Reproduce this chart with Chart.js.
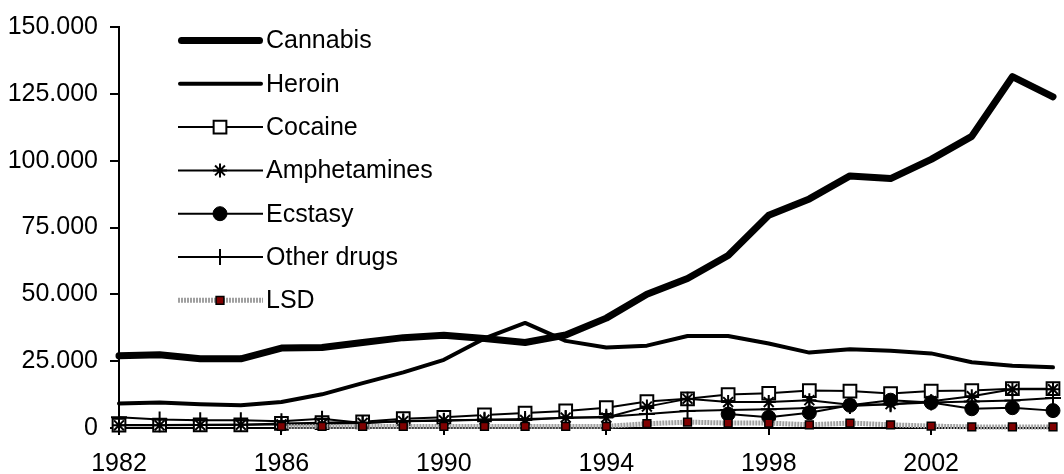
<!DOCTYPE html>
<html>
<head>
<meta charset="utf-8">
<script src="https://cdn.jsdelivr.net/npm/chart.js@4"></script>
<style>
html,body{margin:0;padding:0;background:#fff;}
#wrap{width:1064px;height:474px;position:relative;}
</style>
</head>
<body>
<div id="wrap"><canvas id="c" width="1064" height="474"></canvas></div>
<script>
const years = ['1982','1983','1984','1985','1986','1987','1988','1989','1990','1991','1992','1993',
               '1994','1995','1996','1997','1998','1999','2000','2001','2002','2003','2004','2005'];
const xLabelYears = ['1982','1986','1990','1994','1998','2002'];
const yTickLabels = ['0','25.000','50.000','75.000','100.000','125.000','150.000'];

const cannabis = [27000,27400,25900,25900,29900,30100,32000,33800,34700,33500,32000,34800,
                  41100,50000,55900,64500,79600,85700,94300,93300,100500,109100,131400,123900];
const heroin = [9200,9500,8900,8500,9700,12600,16800,20800,25500,33500,39300,32600,
                30100,30800,34400,34400,31600,28200,29500,28900,27900,24600,23300,22700];
const cocaine = [1100,1100,1200,1200,1700,2000,2300,3500,4000,4900,5600,6400,
                 7600,9900,10900,12500,13000,14000,13800,12900,13800,14000,14700,14700];
const amphetamines = [1000,1000,1100,1200,1300,1500,1900,2600,2900,3100,3000,3900,
                      3900,8000,10900,9700,9700,10400,8700,8900,10000,11900,14500,14500];
const ecstasy = [null,null,null,null,null,null,null,null,null,null,null,null,
                 null,null,null,5200,4000,5700,8500,10400,9500,7200,7600,6500];
const otherDrugs = [4000,3200,2900,2900,2500,3500,1900,2500,2700,3100,3400,3700,
                    4200,5200,6400,6700,7000,7500,8200,8900,9500,9900,10300,11200];
const lsd = [null,null,null,null,600,600,600,600,600,600,600,600,
             600,1600,2200,1850,1850,1200,1850,1200,700,400,400,400];

const FONT = "'Liberation Sans', Arial, Helvetica, sans-serif";
const FONT_SIZE = 25;

function drawMarker(ctx, ds, x, y) {
  const r = ds.pointRadius || 0;
  if (!r) return;
  ctx.save();
  ctx.setLineDash([]);
  ctx.lineWidth = ds.pointBorderWidth || 1;
  ctx.strokeStyle = ds.pointBorderColor || '#000';
  ctx.fillStyle = ds.pointBackgroundColor || '#000';
  if (window.Chart && Chart.helpers && Chart.helpers.drawPoint) {
    Chart.helpers.drawPoint(ctx, {pointStyle: ds.pointStyle, radius: r, rotation: 0, borderWidth: ds.pointBorderWidth || 1}, x, y);
  } else {
    ctx.beginPath();
    const s = ds.pointStyle;
    if (s === 'rect') {
      const h = r * Math.SQRT1_2;
      ctx.rect(x - h, y - h, 2 * h, 2 * h);
      ctx.fill(); ctx.stroke();
    } else if (s === 'circle') {
      ctx.arc(x, y, r, 0, Math.PI * 2);
      ctx.fill(); ctx.stroke();
    } else if (s === 'cross') {
      ctx.moveTo(x, y - r); ctx.lineTo(x, y + r);
      ctx.moveTo(x - r, y); ctx.lineTo(x + r, y);
      ctx.stroke();
    } else if (s === 'star') {
      ctx.moveTo(x, y - r); ctx.lineTo(x, y + r);
      ctx.moveTo(x - r, y); ctx.lineTo(x + r, y);
      const d = r * Math.SQRT1_2;
      ctx.moveTo(x - d, y - d); ctx.lineTo(x + d, y + d);
      ctx.moveTo(x - d, y + d); ctx.lineTo(x + d, y - d);
      ctx.stroke();
    }
  }
  ctx.restore();
}

const legendPlugin = {
  id: 'customLegend',
  afterDraw(chart) {
    const ctx = chart.ctx;
    chart.data.datasets.forEach((ds, i) => {
      const y = 40.5 + i * 43.3;
      ctx.save();
      ctx.strokeStyle = ds.borderColor;
      ctx.lineWidth = ds.borderWidth;
      ctx.setLineDash(ds.borderDash || []);
      ctx.lineCap = ds.borderCapStyle || 'butt';
      const inset = ds.borderCapStyle === 'round' ? ds.borderWidth / 2 : 0;
      ctx.beginPath();
      ctx.moveTo(178 + inset, y);
      ctx.lineTo(263 - inset, y);
      ctx.stroke();
      ctx.restore();
      drawMarker(ctx, ds, 220, y);
      ctx.save();
      ctx.fillStyle = '#000';
      ctx.font = FONT_SIZE + 'px ' + FONT;
      ctx.textBaseline = 'middle';
      ctx.textAlign = 'left';
      ctx.fillText(ds.label, 266, y + 1);
      ctx.restore();
    });
  }
};

function lineDs(label, data, extra, order) {
  return Object.assign({
    label: label,
    data: data,
    borderColor: '#000',
    backgroundColor: '#000',
    borderWidth: 2,
    tension: 0,
    fill: false,
    pointRadius: 0,
    pointHoverRadius: 0,
    borderJoinStyle: 'round',
    clip: false,
    order: order
  }, extra);
}

const datasets = [
  lineDs('Cannabis', cannabis, {borderWidth: 7, borderCapStyle: 'round'}, 6),
  lineDs('Heroin', heroin, {borderWidth: 4, borderCapStyle: 'round'}, 5),
  lineDs('Cocaine', cocaine, {pointStyle: 'rect', pointRadius: 9, pointBackgroundColor: '#fff', pointBorderColor: '#000', pointBorderWidth: 2}, 4),
  lineDs('Amphetamines', amphetamines, {pointStyle: 'star', pointRadius: 7, pointBackgroundColor: '#000', pointBorderColor: '#000', pointBorderWidth: 2}, 3),
  lineDs('Ecstasy', ecstasy, {pointStyle: 'circle', pointRadius: 7, pointBackgroundColor: '#000', pointBorderColor: '#000', pointBorderWidth: 1}, 2),
  lineDs('Other drugs', otherDrugs, {pointStyle: 'cross', pointRadius: 8, pointBackgroundColor: '#000', pointBorderColor: '#000', pointBorderWidth: 2}, 1),
  lineDs('LSD', lsd, {borderColor: '#a0a0a0', borderWidth: 5, borderDash: [2, 1], pointStyle: 'rect', pointRadius: 5.5, pointBackgroundColor: '#800000', pointBorderColor: '#000', pointBorderWidth: 1.5}, 0)
];

new Chart(document.getElementById('c'), {
  type: 'line',
  data: { labels: years, datasets: datasets },
  options: {
    responsive: false,
    animation: false,
    events: [],
    layout: { padding: { top: 23, right: 4, left: 0, bottom: 0 } },
    plugins: { legend: { display: false }, tooltip: { enabled: false } },
    scales: {
      x: {
        type: 'category',
        offset: false,
        grid: { drawOnChartArea: false, drawTicks: true, tickLength: 7, color: '#000', lineWidth: 2 },
        border: { display: true, color: '#000', width: 2 },
        ticks: {
          autoSkip: false, maxRotation: 0, minRotation: 0, padding: 14,
          color: '#000', font: { family: FONT, size: FONT_SIZE },
          callback: function(v, i) { return xLabelYears.includes(years[i]) ? years[i] : null; }
        },
        afterFit: function(s) { s.height = 46; }
      },
      y: {
        min: 0, max: 150000,
        grid: { drawOnChartArea: false, drawTicks: true, tickLength: 9, color: '#000', lineWidth: 2 },
        border: { display: true, color: '#000', width: 2 },
        ticks: {
          stepSize: 25000, padding: 12, color: '#000', font: { family: FONT, size: FONT_SIZE },
          callback: function(v, i) { return yTickLabels[i]; }
        },
        afterFit: function(s) { s.width = 119; }
      }
    }
  },
  plugins: [legendPlugin]
});
</script>
</body>
</html>
